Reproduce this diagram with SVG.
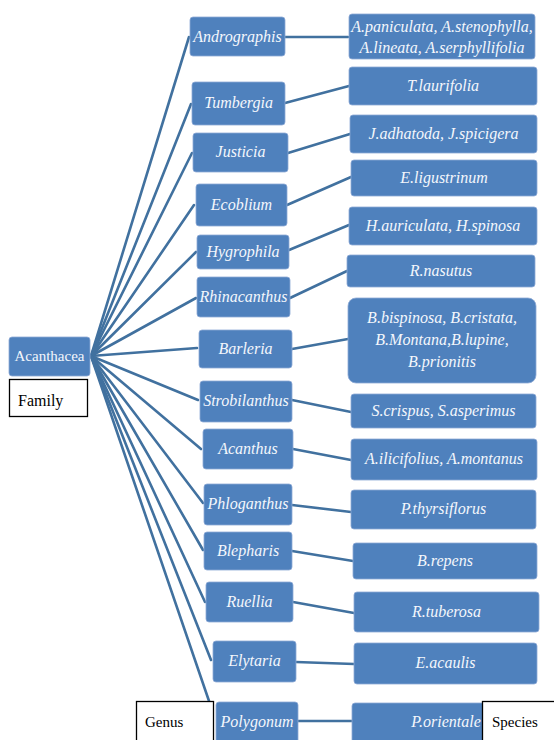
<svg xmlns="http://www.w3.org/2000/svg" width="554" height="740" viewBox="0 0 554 740">
<style>
.b{fill:#4f81bd;stroke:#8eaad6;stroke-width:0.8}
.t{fill:#f4f7fc;font-family:'Times New Roman','Liberation Serif',serif;font-style:italic;font-size:16px;text-anchor:middle}
.c line{stroke:#41719f;stroke-width:2.6;stroke-linecap:round}
.lb{fill:#fff;stroke:#000;stroke-width:1.3}
.lt{fill:#000;font-family:'Times New Roman','Liberation Serif',serif;font-size:16px}
</style>
<rect width="554" height="740" fill="#fff"/>
<g id="connectors" class="c">
<line x1="91" y1="356" x2="189" y2="37"/>
<line x1="91" y1="356" x2="191" y2="104"/>
<line x1="91" y1="356" x2="192" y2="153"/>
<line x1="91" y1="356" x2="194" y2="205"/>
<line x1="91" y1="356" x2="196" y2="252"/>
<line x1="91" y1="356" x2="196" y2="298"/>
<line x1="91" y1="356" x2="197" y2="348"/>
<line x1="91" y1="356" x2="198" y2="400"/>
<line x1="91" y1="356" x2="201" y2="449"/>
<line x1="91" y1="356" x2="203" y2="503"/>
<line x1="91" y1="356" x2="203" y2="550"/>
<line x1="91" y1="356" x2="205" y2="602"/>
<line x1="91" y1="356" x2="211" y2="660"/>
<line x1="91" y1="356" x2="209" y2="701"/>
<line x1="285" y1="37" x2="348" y2="37"/>
<line x1="285" y1="103" x2="349" y2="86"/>
<line x1="288" y1="153" x2="350" y2="134"/>
<line x1="287" y1="205" x2="351" y2="177"/>
<line x1="289" y1="250" x2="349" y2="225"/>
<line x1="290" y1="298" x2="347" y2="271"/>
<line x1="292" y1="349" x2="348" y2="339"/>
<line x1="292" y1="400" x2="351" y2="412"/>
<line x1="293" y1="449" x2="351" y2="460"/>
<line x1="292" y1="505" x2="351" y2="512"/>
<line x1="292" y1="551" x2="353" y2="561"/>
<line x1="293" y1="602" x2="354" y2="613"/>
<line x1="296" y1="662" x2="354" y2="664"/>
<line x1="298" y1="721" x2="352" y2="721"/>
</g>
<g id="family">
<rect class="b" x="9" y="337" width="81" height="39" rx="3"/>
<text x="49.5" y="361" font-family="'Times New Roman', 'Liberation Serif', serif" font-size="15" fill="#f4f7fc" text-anchor="middle">Acanthacea</text>
</g>
<g id="family-label"><rect class="lb" x="9.5" y="379.5" width="78" height="37"/><text class="lt" x="18" y="406">Family</text></g>
<g id="g-andrographis"><rect class="b" x="190" y="17" width="95" height="39" rx="3"/><text class="t" x="237.5" y="42">Andrographis</text></g>
<g id="g-tumbergia"><rect class="b" x="192" y="82" width="93" height="43" rx="3"/><text class="t" x="238.5" y="108">Tumbergia</text></g>
<g id="g-justicia"><rect class="b" x="193" y="133" width="95" height="39" rx="3"/><text class="t" x="240.5" y="157">Justicia</text></g>
<g id="g-ecoblium"><rect class="b" x="196" y="184" width="91" height="42" rx="3"/><text class="t" x="241.5" y="210">Ecoblium</text></g>
<g id="g-hygrophila"><rect class="b" x="197" y="235" width="92" height="34" rx="3"/><text class="t" x="243" y="257">Hygrophila</text></g>
<g id="g-rhinacanthus"><rect class="b" x="197" y="277" width="93" height="40" rx="3"/><text class="t" x="243.5" y="302">Rhinacanthus</text></g>
<g id="g-barleria"><rect class="b" x="199" y="330" width="93" height="38" rx="3"/><text class="t" x="245.5" y="354">Barleria</text></g>
<g id="g-strobilanthus"><rect class="b" x="200" y="381" width="92" height="41" rx="3"/><text class="t" x="246" y="406">Strobilanthus</text></g>
<g id="g-acanthus"><rect class="b" x="203" y="429" width="90" height="40" rx="3"/><text class="t" x="248" y="454">Acanthus</text></g>
<g id="g-phloganthus"><rect class="b" x="204" y="484" width="88" height="41" rx="3"/><text class="t" x="248" y="509">Phloganthus</text></g>
<g id="g-blepharis"><rect class="b" x="204" y="532" width="88" height="38" rx="3"/><text class="t" x="248" y="556">Blepharis</text></g>
<g id="g-ruellia"><rect class="b" x="206" y="582" width="87" height="40" rx="3"/><text class="t" x="249.5" y="607">Ruellia</text></g>
<g id="g-elytaria"><rect class="b" x="213" y="641" width="83" height="41" rx="3"/><text class="t" x="254.5" y="666">Elytaria</text></g>
<g id="g-polygonum"><rect class="b" x="216" y="702" width="82" height="44" rx="3"/><text class="t" x="257" y="727">Polygonum</text></g>
<g id="s-andrographis"><rect class="b" x="349" y="14" width="186" height="45" rx="3"/><text class="t" x="442" y="32">A.paniculata, A.stenophylla,</text><text class="t" x="442" y="53">A.lineata, A.serphyllifolia</text></g>
<g id="s-tumbergia"><rect class="b" x="349" y="67" width="188" height="38" rx="3"/><text class="t" x="443" y="91">T.laurifolia</text></g>
<g id="s-justicia"><rect class="b" x="350" y="115" width="187" height="38" rx="3"/><text class="t" x="443.5" y="139">J.adhatoda, J.spicigera</text></g>
<g id="s-ecoblium"><rect class="b" x="351" y="160" width="186" height="36" rx="3"/><text class="t" x="444" y="183">E.ligustrinum</text></g>
<g id="s-hygrophila"><rect class="b" x="349" y="207" width="188" height="38" rx="3"/><text class="t" x="443" y="231">H.auriculata, H.spinosa</text></g>
<g id="s-rhinacanthus"><rect class="b" x="347" y="255" width="188" height="32" rx="3"/><text class="t" x="441" y="276">R.nasutus</text></g>
<g id="s-barleria"><rect class="b" x="348" y="298" width="188" height="85" rx="8"/><text class="t" x="442" y="323">B.bispinosa, B.cristata,</text><text class="t" x="442" y="345">B.Montana,B.lupine,</text><text class="t" x="442" y="367">B.prionitis</text></g>
<g id="s-strobilanthus"><rect class="b" x="351" y="394" width="185" height="34" rx="3"/><text class="t" x="443.5" y="416">S.crispus, S.asperimus</text></g>
<g id="s-acanthus"><rect class="b" x="351" y="439" width="186" height="41" rx="3"/><text class="t" x="444" y="464">A.ilicifolius, A.montanus</text></g>
<g id="s-phloganthus"><rect class="b" x="351" y="490" width="185" height="39" rx="3"/><text class="t" x="443.5" y="514">P.thyrsiflorus</text></g>
<g id="s-blepharis"><rect class="b" x="353" y="543" width="184" height="36" rx="3"/><text class="t" x="445" y="566">B.repens</text></g>
<g id="s-ruellia"><rect class="b" x="354" y="592" width="185" height="40" rx="3"/><text class="t" x="446.5" y="617">R.tuberosa</text></g>
<g id="s-elytaria"><rect class="b" x="354" y="643" width="183" height="41" rx="3"/><text class="t" x="445.5" y="668">E.acaulis</text></g>
<g id="s-polygonum"><rect class="b" x="352" y="703" width="186" height="44" rx="3"/><text class="t" x="446" y="727">P.orientale</text></g>
<g id="genus-label"><rect class="lb" x="136.5" y="701.5" width="77" height="45"/><text class="lt" x="145" y="727" style="font-size:15px">Genus</text></g>
<g id="species-label"><rect class="lb" x="482.5" y="701.5" width="78" height="45"/><text class="lt" x="492" y="727" style="font-size:15px">Species</text></g>
</svg>
